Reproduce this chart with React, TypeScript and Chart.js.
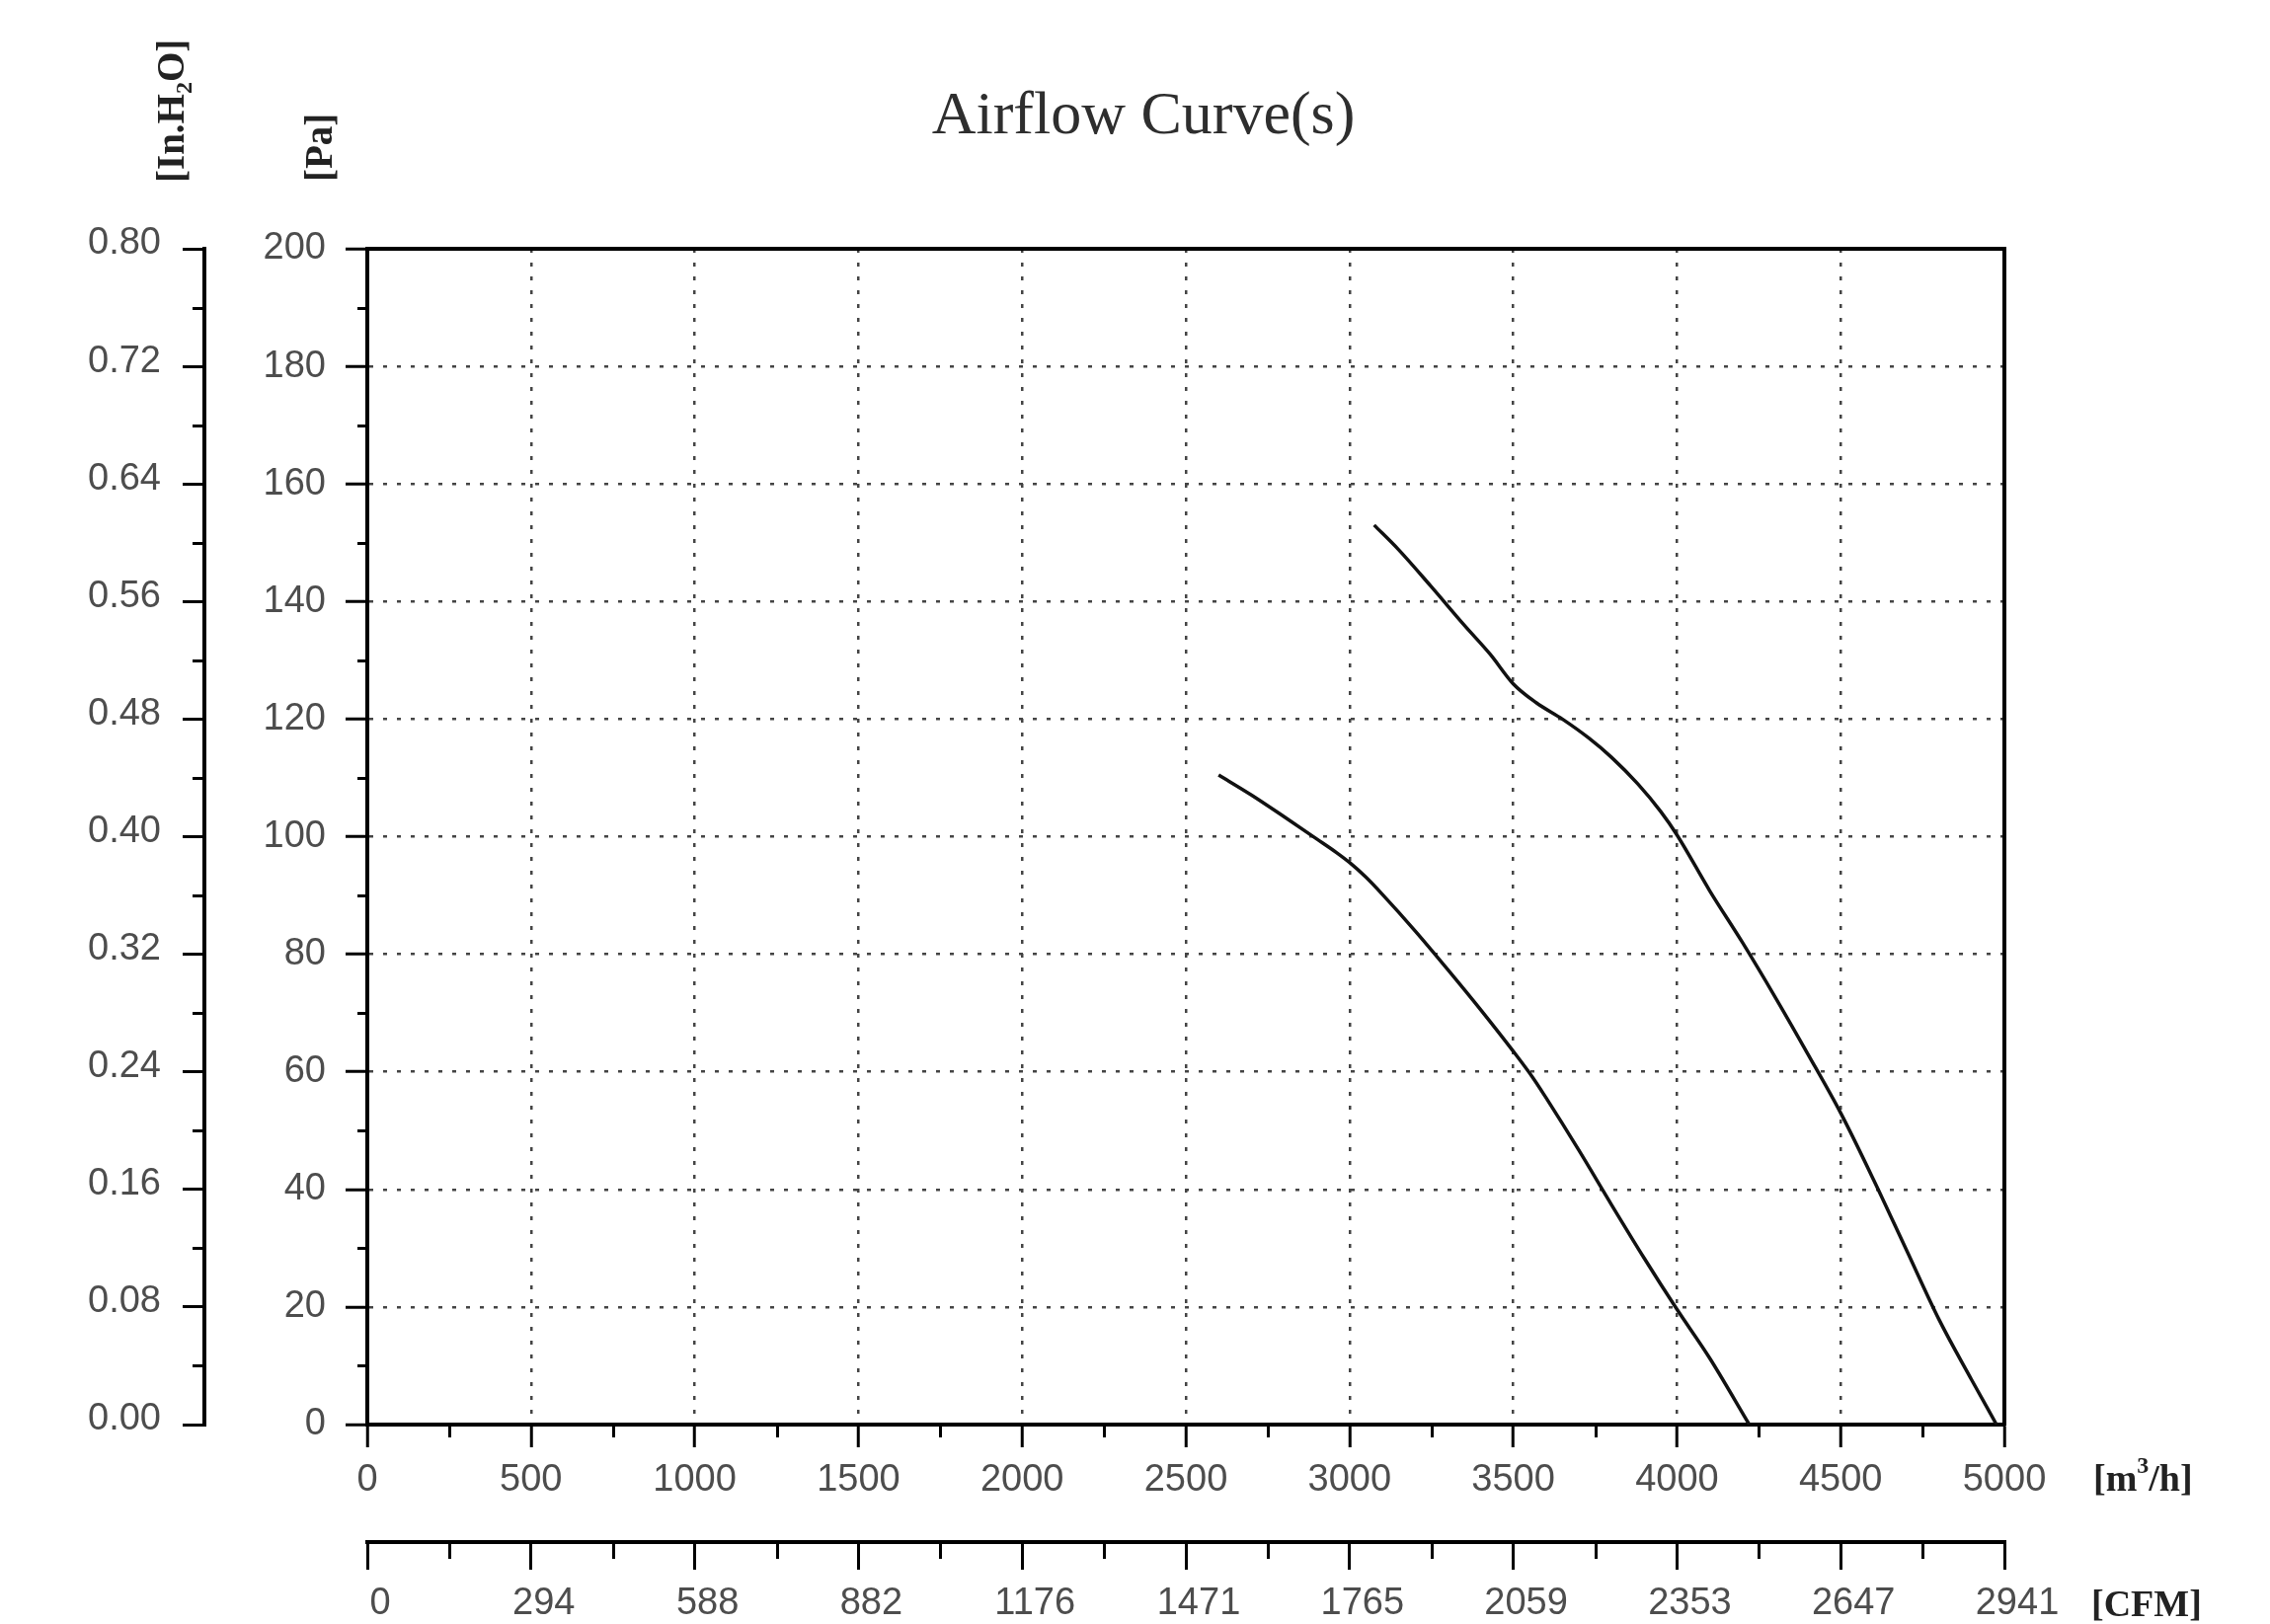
import React, { useEffect, useRef } from 'react';
import { Chart, registerables } from 'chart.js';

Chart.register(...registerables);

// ---- data ----
const TITLE = 'Airflow Curve(s)';
const CFM_UNIT = '[CFM]';
const PA_UNIT = '[Pa]';
const INH2O_UNIT = ['[In.H', '2', 'O]'];

const FLOW_MIN = 0;
const FLOW_MAX = 5000;
const FLOW_STEP = 500;
const PA_MIN = 0;
const PA_MAX = 200;
const PA_STEP = 20;
const INH2O_MIN = 0;
const INH2O_MAX = 0.8;
const INH2O_STEP = 0.08;
const CFM_LABELS = ['0', '294', '588', '882', '1176', '1471', '1765', '2059', '2353', '2647', '2941'];

const UPPER_X = [3075, 3150, 3250, 3350, 3430, 3500, 3570, 3650, 3730, 3800, 3880, 3950, 4000, 4100, 4200, 4300, 4400, 4500, 4600, 4700, 4800, 4900, 4976];
const UPPER_Y = [153, 148.8, 142.5, 136, 131, 126, 122.8, 120, 116.8, 113.5, 109, 104.3, 100.3, 90.8, 82, 72.7, 63, 53, 41.7, 29.8, 17.9, 7.6, 0];

const LOWER_X = [2600, 2700, 2800, 2900, 2960, 3000, 3050, 3100, 3200, 3300, 3400, 3500, 3560, 3600, 3700, 3800, 3900, 4000, 4100, 4221];
const LOWER_Y = [110.5, 107.1, 103.4, 99.6, 97.3, 95.6, 93.1, 90.2, 84, 77.4, 70.6, 63.5, 59, 55.6, 46.7, 37.4, 28.3, 19.6, 11.3, 0];

const SANS = '"Liberation Sans", Arial, sans-serif';
const SERIF = '"Liberation Serif", "Times New Roman", serif';
const TICK_COLOR = '#4d4d4d';
const GRID_COLOR = '#444';

const minorTicksPlugin = {
  id: 'minorTicks',
  afterDraw(chart: any) {
    const ctx = chart.ctx;
    const specs: [string, number][] = [['x', 13], ['xCfm', 17], ['y', 10], ['yIn', 12]];
    ctx.save();
    ctx.strokeStyle = '#000';
    ctx.lineWidth = 3;
    for (const [id, len] of specs) {
      const s = chart.scales[id];
      if (!s) continue;
      const ticks = s.ticks;
      for (let i = 0; i < ticks.length - 1; i++) {
        const v = (ticks[i].value + ticks[i + 1].value) / 2;
        const p = Math.round(s.getPixelForValue(v)) + 0.5;
        ctx.beginPath();
        if (s.isHorizontal()) {
          ctx.moveTo(p, s.top);
          ctx.lineTo(p, s.top + len);
        } else {
          ctx.moveTo(s.right, p);
          ctx.lineTo(s.right - len, p);
        }
        ctx.stroke();
      }
    }
    ctx.restore();
  },
};

const textPlugin = {
  id: 'texts',
  afterDraw(chart: any) {
    const ctx = chart.ctx;
    ctx.save();
    // title
    ctx.fillStyle = '#2e2e2e';
    ctx.font = `62px ${SERIF}`;
    ctx.textAlign = 'center';
    ctx.textBaseline = 'alphabetic';
    ctx.fillText(TITLE, 1158, 135);

    // unit labels
    ctx.fillStyle = '#222';
    ctx.textAlign = 'left';
    ctx.textBaseline = 'middle';
    ctx.font = `bold 38px ${SERIF}`;
    // [m3/h] with superscript
    let x = 2120;
    const yF = 1500;
    ctx.fillText('[m', x, yF);
    x += ctx.measureText('[m').width;
    ctx.font = `bold 24px ${SERIF}`;
    ctx.fillText('3', x, yF - 14);
    x += ctx.measureText('3').width;
    ctx.font = `bold 38px ${SERIF}`;
    ctx.fillText('/h]', x, yF);
    ctx.fillText(CFM_UNIT, 2118, 1627);

    // rotated [In.H2O]
    ctx.save();
    ctx.translate(176, 185);
    ctx.rotate(-Math.PI / 2);
    let px = 0;
    ctx.font = `bold 39px ${SERIF}`;
    ctx.fillText(INH2O_UNIT[0], px, 0);
    px += ctx.measureText(INH2O_UNIT[0]).width;
    ctx.font = `bold 24px ${SERIF}`;
    ctx.fillText(INH2O_UNIT[1], px, 12);
    px += ctx.measureText(INH2O_UNIT[1]).width;
    ctx.font = `bold 39px ${SERIF}`;
    ctx.fillText(INH2O_UNIT[2], px, 0);
    ctx.restore();

    // rotated [Pa]
    ctx.save();
    ctx.translate(326, 184);
    ctx.rotate(-Math.PI / 2);
    ctx.font = `bold 39px ${SERIF}`;
    ctx.fillText(PA_UNIT, 0, 0);
    ctx.restore();

    ctx.restore();
  },
};

export default function App() {
  const ref = useRef<HTMLCanvasElement>(null);

  useEffect(() => {
    document.body.style.margin = '0';
    document.body.style.overflow = 'hidden';
    const tickFont = { family: SANS, size: 38 };
    const chart = new Chart(ref.current as HTMLCanvasElement, {
      type: 'scatter',
      data: {
        datasets: [
          {
            label: 'Curve A',
            data: UPPER_X.map((x, i) => ({ x, y: UPPER_Y[i] })),
            showLine: true,
            borderColor: '#111',
            borderWidth: 3.5,
            pointRadius: 0,
            cubicInterpolationMode: 'monotone',
            xAxisID: 'x',
            yAxisID: 'y',
          },
          {
            label: 'Curve B',
            data: LOWER_X.map((x, i) => ({ x, y: LOWER_Y[i] })),
            showLine: true,
            borderColor: '#111',
            borderWidth: 3.5,
            pointRadius: 0,
            cubicInterpolationMode: 'monotone',
            xAxisID: 'x',
            yAxisID: 'y',
          },
        ],
      },
      options: {
        animation: false,
        responsive: true,
        maintainAspectRatio: false,
        layout: { padding: { left: 0, top: 252, right: 269, bottom: 0 } },
        plugins: {
          legend: { display: false },
          tooltip: { enabled: false },
          title: { display: false },
        },
        scales: {
          x: {
            type: 'linear',
            position: 'bottom',
            weight: 0,
            min: FLOW_MIN,
            max: FLOW_MAX,
            ticks: {
              stepSize: FLOW_STEP,
              autoSkip: false,
              maxRotation: 0,
              padding: 11,
              color: TICK_COLOR,
              font: tickFont,
              callback: (v: any) => String(v),
            },
            grid: {
              drawOnChartArea: true,
              drawTicks: true,
              tickLength: 23,
              color: GRID_COLOR,
              lineWidth: 2.5,
              tickColor: '#000',
              tickWidth: 3,
              tickBorderDash: [],
            },
            border: { display: true, color: '#000', width: 4, dash: [4, 10] },
            afterFit: (s: any) => {
              s.height = 119;
            },
          },
          xCfm: {
            type: 'linear',
            position: 'bottom',
            weight: 1,
            min: FLOW_MIN,
            max: FLOW_MAX,
            ticks: {
              stepSize: FLOW_STEP,
              autoSkip: false,
              maxRotation: 0,
              padding: 12,
              labelOffset: 13,
              color: TICK_COLOR,
              font: tickFont,
              callback: (_v: any, i: number) => CFM_LABELS[i],
            },
            grid: {
              drawOnChartArea: false,
              drawTicks: true,
              tickLength: 28,
              color: '#000',
              lineWidth: 3,
              tickColor: '#000',
              tickWidth: 3,
            },
            border: { display: true, color: '#000', width: 4 },
            afterFit: (s: any) => {
              s.height = 83;
            },
          },
          xTop: {
            type: 'linear',
            position: 'top',
            min: FLOW_MIN,
            max: FLOW_MAX,
            ticks: { display: false },
            grid: { drawOnChartArea: false, drawTicks: false },
            border: { display: true, color: '#000', width: 4 },
            afterFit: (s: any) => {
              s.height = 0;
            },
          },
          y: {
            type: 'linear',
            position: 'left',
            weight: 0,
            min: PA_MIN,
            max: PA_MAX,
            ticks: {
              stepSize: PA_STEP,
              padding: 20,
              color: TICK_COLOR,
              font: tickFont,
              callback: (v: any) => String(v),
            },
            grid: {
              drawOnChartArea: true,
              drawTicks: true,
              tickLength: 22,
              color: GRID_COLOR,
              lineWidth: 2.5,
              tickColor: '#000',
              tickWidth: 3,
              tickBorderDash: [],
            },
            border: { display: true, color: '#000', width: 4, dash: [4, 10] },
            afterFit: (s: any) => {
              s.width = 165;
            },
          },
          yIn: {
            type: 'linear',
            position: 'left',
            weight: 1,
            min: INH2O_MIN,
            max: INH2O_MAX,
            ticks: {
              stepSize: INH2O_STEP,
              padding: 22,
              labelOffset: -5,
              color: TICK_COLOR,
              font: tickFont,
              callback: (v: any) => Number(v).toFixed(2),
            },
            grid: {
              drawOnChartArea: false,
              drawTicks: true,
              tickLength: 22,
              color: '#000',
              lineWidth: 3,
              tickColor: '#000',
              tickWidth: 3,
            },
            border: { display: true, color: '#000', width: 4 },
            afterFit: (s: any) => {
              s.width = 207;
            },
          },
          yRight: {
            type: 'linear',
            position: 'right',
            min: PA_MIN,
            max: PA_MAX,
            ticks: { display: false },
            grid: { drawOnChartArea: false, drawTicks: false },
            border: { display: true, color: '#000', width: 4 },
            afterFit: (s: any) => {
              s.width = 0;
            },
          },
        },
      } as any,
      plugins: [minorTicksPlugin, textPlugin],
    });
    return () => chart.destroy();
  }, []);

  return (
    <div style={{ position: 'absolute', left: 0, top: 0, width: 2299, height: 1645, background: '#fff' }}>
      <canvas ref={ref} />
    </div>
  );
}
